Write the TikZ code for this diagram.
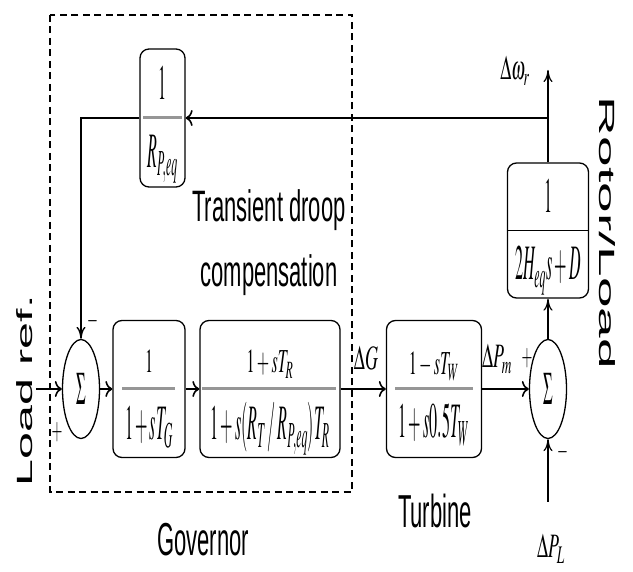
\documentclass[tikz,border=0pt]{standalone}
\usepackage{amsmath}
\usepackage{mathptmx}
\usepackage[no-math]{fontspec}
\setmainfont{Liberation Sans}
\usepackage{graphicx}
\usepackage{xcolor}
\definecolor{bargray}{RGB}{150,150,150}
\usetikzlibrary{shapes.geometric,arrows.meta,positioning}

\newcommand{\tallbox}[2][2.1]{\scalebox{1}[#1]{#2}}
\newcommand{\widebox}[2][2.2]{\scalebox{#1}[1]{#2}}

\tikzset{
  tfbox/.style={draw, rectangle, rounded corners=9pt, line width=1.3pt, minimum height=137pt, inner sep=0pt},
  sumnode/.style={draw, ellipse, line width=1.3pt, minimum width=37pt, minimum height=99pt, inner sep=0pt, font=\fontsize{16}{19}\selectfont},
  tfbar/.style={line width=3pt, bargray},
  mathtext/.style={anchor=base, inner sep=0pt, font=\fontsize{16}{19}\selectfont},
  sigtext/.style={anchor=base, inner sep=0pt, font=\fontsize{18}{21}\selectfont},
  signtext/.style={inner sep=0pt, font=\fontsize{14}{17}\selectfont},
  labeltext/.style={inner sep=0pt, font=\fontsize{22}{26}\selectfont},
  harrow/.style={-{To[length=7pt,width=16pt]}, line width=1.6pt},
  varrow/.style={-{To[length=12pt,width=9pt]}, line width=1.2pt},
  govframe/.style={dash pattern=on 7pt off 4.5pt, line width=1.6pt}
}

\begin{document}
\begin{tikzpicture}[x=1pt, y=-1pt]
    \useasboundingbox (0,0) rectangle (633,572);

    % Governor frame
    \draw[govframe] (50,15) rectangle (352,492);

    % Summing junctions
    \node[sumnode] (s1) at (81,389) {\tallbox[2.9]{$\Sigma$}};
    \node[sumnode] (s2) at (548,389) {\tallbox[2.9]{$\Sigma$}};

    % Governor block
    \node[tfbox, minimum width=72pt] (gov) at (149,389) {};
    \draw[tfbar] (122,389) -- (175,389);
    \node[mathtext] (govnum) at (149,373) {\tallbox{$1$}};
    \node[mathtext] (govden) at (149,440) {\tallbox[3.1]{$1+sT_G$}};

    % Transient droop block
    \node[tfbox, minimum width=140pt] (tdc) at (270,389) {};
    \draw[tfbar] (202,389) -- (336,389);
    \node[mathtext] (tdcnum) at (270,373) {\tallbox{$1+sT_R$}};
    \node[mathtext] (tdcden) at (270,440) {\tallbox[3.1]{$1+s(R_T\,/\,R_{P,eq})T_R$}};

    % Turbine block
    \node[tfbox, minimum width=95pt] (tur) at (434,389) {};
    \draw[tfbar] (395,389) -- (473,389);
    \node[mathtext] (turnum) at (434,375) {\tallbox{$1-sT_W$}};
    \node[mathtext] (turden) at (434,438) {\tallbox[3.1]{$1+s0.5T_W$}};

    % Droop feedback block
    \node[tfbox, minimum width=45pt, minimum height=138pt] (rp) at (162.5,118) {};
    \draw[tfbar] (143,118) -- (182,118);
    \node[mathtext] (rpnum) at (162.5,100) {\tallbox[3.1]{$1$}};
    \node[mathtext] (rpden) at (162.5,168) {\tallbox[3.1]{$R_{P,eq}$}};

    % Rotor/load block
    \node[tfbox, minimum width=81pt, minimum height=135pt] (rot) at (548,230.5) {};
    \draw[line width=1.5pt] (rot.west) -- (rot.east);
    \node[mathtext] (rotnum) at (548,213) {\tallbox[3.1]{$1$}};
    \node[mathtext] (rotden) at (548,280) {\tallbox[3.1]{$2H_{eq}s+D$}};

    % Arrows
    \coordinate (refin) at (36,389);
    \coordinate (wout) at (548,70);
    \coordinate (fbtap) at (548,118);
    \coordinate (plin) at (548,502);
    \draw[harrow] (refin) -- (s1);
    \draw[harrow] (s1) -- (gov);
    \draw[harrow] (gov) -- (tdc);
    \draw[harrow] (tdc) -- (tur);
    \draw[harrow] (tur) -- (s2);
    \draw[varrow] (s2) -- (rot);
    \draw[varrow] (rot) -- (wout);
    \draw[harrow] (fbtap) -- (rp);
    \draw[varrow, line width=1.4pt] (rp.west) -| (s1.north);
    \draw[varrow] (plin) -- (s2);

    % Signals and signs
    \node[sigtext] (dg) at (366,370) {\tallbox[1.9]{$\Delta G$}};
    \node[sigtext] (dpm) at (497,368) {\tallbox[1.9]{$\Delta P_m$}};
    \node[sigtext] (dpl) at (551,558) {\tallbox[1.9]{$\Delta P_L$}};
    \node[sigtext] (dw) at (515,80) {\tallbox[1.9]{$\Delta\omega_r$}};
    \node[signtext] (s1minus) at (93,321) {\tallbox{$-$}};
    \node[signtext] (s1plus) at (57,432) {\tallbox{$+$}};
    \node[signtext] (s2plus) at (527,358) {\tallbox{$+$}};
    \node[signtext] (s2minus) at (563,452) {\tallbox{$-$}};

    % Labels
    \node[labeltext] (tdclabel) at (269,241.5) {\tallbox[2]{\fontsize{22}{32.5}\selectfont\begin{tabular}{@{}c@{}}Transient droop\\compensation\end{tabular}}};
    \node[labeltext] (govlabel) at (203,540) {\tallbox{Governor}};
    \node[labeltext] (turlabel) at (435,511) {\tallbox{Turbine}};
    \node[labeltext, rotate=90] (loadref) at (25,391) {\widebox[2.2]{Load ref.}};
    \node[labeltext, rotate=-90] (rotorload) at (607,233) {\widebox[2.5]{Rotor/Load}};
\end{tikzpicture}
\end{document}
